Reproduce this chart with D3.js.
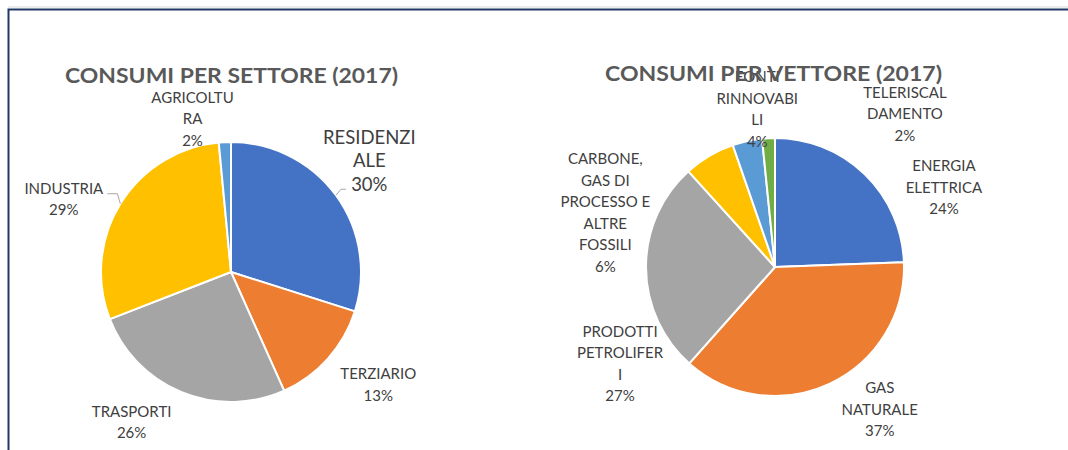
<!DOCTYPE html>
<html lang="it">
  <head>
    <meta charset="utf-8" />
    <script src="https://d3js.org/d3.v7.min.js"></script>
    <style>
      body { margin: 0; background: #ffffff; }
    </style>
  </head>
  <body>
    <script type="text/javascript">

      // svg size
      var w = 1068;
      var h = 450;

      // chart 1: consumi per settore (2017)
      var sectorTitle = "CONSUMI PER SETTORE (2017)";
      var sectorNames = ["RESIDENZIALE", "TERZIARIO", "TRASPORTI", "INDUSTRIA", "AGRICOLTURA"];
      var sectorLabels = [["RESIDENZI", "ALE"], ["TERZIARIO"], ["TRASPORTI"], ["INDUSTRIA"], ["AGRICOLTU", "RA"]];
      var sectorValues = [29.9, 13.4, 25.8, 29.4, 1.5];

      // chart 2: consumi per vettore (2017)
      var carrierTitle = "CONSUMI PER VETTORE (2017)";
      var carrierNames = ["ENERGIA ELETTRICA", "GAS NATURALE", "PRODOTTI PETROLIFERI",
                          "CARBONE, GAS DI PROCESSO E ALTRE FOSSILI", "FONTI RINNOVABILI",
                          "TELERISCALDAMENTO"];
      var carrierLabels = [["ENERGIA", "ELETTRICA"], ["GAS", "NATURALE"], ["PRODOTTI", "PETROLIFER", "I"],
                           ["CARBONE,", "GAS DI", "PROCESSO E", "ALTRE", "FOSSILI"],
                           ["FONTI", "RINNOVABI", "LI"], ["TELERISCAL", "DAMENTO"]];
      var carrierValues = [24.4, 37.1, 26.7, 6.4, 3.7, 1.6];

      // office palette
      var colors = ["#4472C4", "#ED7D31", "#A5A5A5", "#FFC000", "#5B9BD5", "#70AD47"];

      // label layout (nudges from the default label radius, in px)
      var sectorNudges = [[-7, -5], [13, -7], [-31, -16], [-14, 22], [-30, 27]];
      var carrierNudges = [[44, 50], [28, -20], [25, 96], [-78, 101], [21, 18], [139, 27]];

      var svg = d3.select("body")
                  .append("svg")
                  .attr("width", w)
                  .attr("height", h);

      // frame round the charts
      svg.append("line")
         .attr("x1", 8).attr("x2", w)
         .attr("y1", 7).attr("y2", 7)
         .attr("stroke", "#d9d9d9")
         .attr("stroke-width", 1);
      svg.append("path")
         .attr("d", "M8.5," + h + "V9.5H" + w)
         .attr("fill", "none")
         .attr("stroke", "#1F3864")
         .attr("stroke-width", 2);

      drawPie({
        cx: 231, cy: 272, r: 130, labelR: 180,
        values: sectorValues, labels: sectorLabels, nudges: sectorNudges,
        title: sectorTitle, titleX: 231.5, titleY: 83, titleLen: 333,
        big: [0], leaders: {0: [5, -6, 5], 3: [-3, -10, -10]}
      });

      drawPie({
        cx: 775, cy: 267, r: 129, labelR: 180,
        values: carrierValues, labels: carrierLabels, nudges: carrierNudges,
        title: carrierTitle, titleX: 773.5, titleY: 81, titleLen: 337,
        big: [], leaders: {}
      });

      // function to draw one pie with its labels and title
      function drawPie(o) {
        var g = svg.append("g")
                   .attr("transform", "translate(" + [o.cx, o.cy] + ")");

        var total = d3.sum(o.values);
        var pie = d3.pie().sort(null)(o.values);
        var arc = d3.arc().innerRadius(0).outerRadius(o.r);

        // slices
        g.selectAll("path.slice")
         .data(pie)
         .enter()
         .append("path")
         .attr("class", "slice")
         .attr("d", arc)
         .attr("fill", function(d, i) { return colors[i]; })
         .attr("stroke", "#ffffff")
         .attr("stroke-width", 2)
         .attr("stroke-linejoin", "round");

        // data labels
        pie.forEach(function(d, i) {
          var mid = (d.startAngle + d.endAngle) / 2;
          var px = o.labelR * Math.sin(mid) + o.nudges[i][0];
          var py = -o.labelR * Math.cos(mid) + o.nudges[i][1];
          var big = o.big.indexOf(i) >= 0;
          var fs = big ? 18.5 : 15;
          var lh = big ? 23.5 : 21.5;
          var lines = o.labels[i].concat([Math.round(d.value / total * 100) + "%"]);
          var n = lines.length;

          var t = g.append("text")
                   .attr("text-anchor", "middle")
                   .attr("fill", "#404040")
                   .style("font-family", "Lato, 'Open Sans', sans-serif")
                   .style("font-size", fs + "px");
          lines.forEach(function(s, k) {
            t.append("tspan")
             .attr("x", px)
             .attr("y", py + (k - (n - 1) / 2) * lh + fs * 0.34)
             .text(s);
          });

          // leader line from the slice edge
          if (o.leaders[i]) {
            var ld = o.leaders[i];
            var sx = o.r * Math.sin(mid);
            var sy = -o.r * Math.cos(mid);
            g.append("path")
             .attr("d", "M" + [sx, sy] + "L" + [sx + ld[0], sy + ld[1]] +
                        "h" + ld[2])
             .attr("fill", "none")
             .attr("stroke", "#a6a6a6")
             .attr("stroke-width", 1);
          }
        });

        // title
        svg.append("text")
           .attr("x", o.titleX)
           .attr("y", o.titleY)
           .attr("text-anchor", "middle")
           .attr("fill", "#595959")
           .attr("textLength", o.titleLen)
           .attr("lengthAdjust", "spacingAndGlyphs")
           .style("font-family", "Lato, 'Open Sans', sans-serif")
           .style("font-weight", "bold")
           .style("font-size", "21px")
           .text(o.title);
      }

    </script>
  </body>
</html>
